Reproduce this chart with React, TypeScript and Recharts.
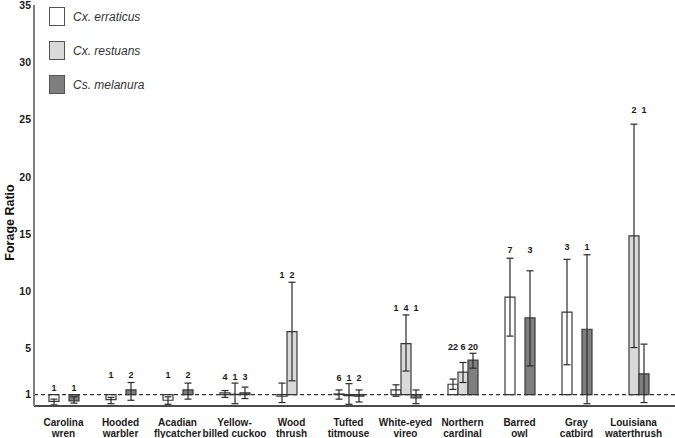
import React from "react"
import {
  Bar,
  BarChart,
  ErrorBar,
  LabelList,
  Legend,
  ReferenceLine,
  XAxis,
  YAxis,
} from "recharts"

const FONT = "'Liberation Sans', Arial, Helvetica, sans-serif"

const birds = [
  "Carolina\nwren",
  "Hooded\nwarbler",
  "Acadian\nflycatcher",
  "Yellow-\nbilled cuckoo",
  "Wood\nthrush",
  "Tufted\ntitmouse",
  "White-eyed\nvireo",
  "Northern\ncardinal",
  "Barred\nowl",
  "Gray\ncatbird",
  "Louisiana\nwaterthrush",
]

// Cx. erraticus
const erraticus = [0.4, 0.55, 0.5, 1.15, 0.85, 1.05, 1.4, 1.9, 9.5, 8.2, null]
const erraticusLow = [0.1, 0.2, 0.15, 0.75, 0.3, 0.6, 0.85, 1.45, 6.1, 3.6, null]
const erraticusHigh = [0.6, 0.75, 0.8, 1.35, 2.0, 1.4, 1.85, 2.35, 12.9, 12.8, null]
const erraticusN = [1, 1, 1, 4, 1, 6, 1, 22, 7, 3, null]

// Cx. restuans
const restuans = [null, null, null, 1.02, 6.5, 0.9, 5.45, 2.95, null, null, 14.85]
const restuansLow = [null, null, null, 0.2, 2.2, 0.15, 3.05, 2.05, null, null, 5.1]
const restuansHigh = [null, null, null, 2.0, 10.8, 1.95, 7.95, 3.8, null, null, 24.6]
const restuansN = [null, null, null, 1, 2, 1, 4, 6, null, null, 2]

// Cs. melanura
const melanura = [0.45, 1.4, 1.4, 1.15, null, 0.85, 0.7, 4.0, 7.7, 6.7, 2.8]
const melanuraLow = [0.25, 0.5, 0.6, 0.65, null, 0.35, 0.2, 3.3, 3.5, 0.2, 0.3]
const melanuraHigh = [0.8, 2.05, 2.0, 1.65, null, 1.4, 1.4, 4.6, 11.8, 13.2, 5.4]
const melanuraN = [1, 2, 2, 3, null, 2, 1, 20, 3, 1, 1]

// height at which the sample-size numbers sit, per bird
const countLevel = [1.35, 2.45, 2.45, 2.3, 11.2, 2.15, 8.33, 4.93, 13.37, 13.65, 25.57]

const yTicks = [1, 5, 10, 15, 20, 25, 30, 35]

const species = [
  { key: "er", name: "Cx. erraticus", fill: "#ffffff", values: erraticus, low: erraticusLow, high: erraticusHigh, n: erraticusN },
  { key: "re", name: "Cx. restuans", fill: "#d9d9d9", values: restuans, low: restuansLow, high: restuansHigh, n: restuansN },
  { key: "me", name: "Cs. melanura", fill: "#7f7f7f", values: melanura, low: melanuraLow, high: melanuraHigh, n: melanuraN },
]
const speciesNames = species.map((s) => s.name)

// bars start at the forage ratio of 1
const chartData = birds.map((bird, i) => {
  const row: Record<string, any> = { bird }
  species.forEach((s) => {
    const v = s.values[i]
    const lo = s.low[i]
    const hi = s.high[i]
    row[s.key] = v == null ? null : [1, v]
    row[s.key + "Err"] = v == null || lo == null || hi == null ? null : [v - lo, hi - v]
    row[s.key + "N"] = s.n[i]
    row[s.key + "Lab"] = s.n[i] == null ? null : [0, countLevel[i]]
  })
  return row
})

function BirdTick({ x, y, payload }: any) {
  const [first, second] = String(payload.value).split("\n")
  return (
    <text
      x={x}
      y={y}
      textAnchor="middle"
      fontFamily={FONT}
      fontWeight="bold"
      fontSize={10}
      fill="#1a1a1a"
    >
      <tspan x={x} dy={18}>
        {first}
      </tspan>
      <tspan x={x} dy={11}>
        {second}
      </tspan>
    </text>
  )
}

function SpeciesLegend({ payload }: any) {
  const items = (payload || [])
    .filter((p: any) => speciesNames.includes(p.value))
    .sort((a: any, b: any) => speciesNames.indexOf(a.value) - speciesNames.indexOf(b.value))
  return (
    <div style={{ fontFamily: FONT }}>
      {items.map((p: any) => (
        <div
          key={p.value}
          style={{ display: "flex", alignItems: "center", height: 19, marginBottom: 15 }}
        >
          <span
            style={{
              display: "inline-block",
              width: 16,
              height: 19,
              boxSizing: "border-box",
              background: p.color,
              border: "1px solid #555",
            }}
          />
          <span
            style={{ marginLeft: 8, fontStyle: "italic", fontSize: 12, color: "#333" }}
          >
            {p.value}
          </span>
        </div>
      ))}
    </div>
  )
}

function AxisTitle(props: any) {
  const vb = props.viewBox
  const cx = vb.x + 10
  const cy = vb.y + vb.height / 2 + 17
  return (
    <text
      x={cx}
      y={cy}
      transform={`rotate(-90 ${cx} ${cy})`}
      textAnchor="middle"
      dominantBaseline="central"
      fontFamily={FONT}
      fontWeight="bold"
      fontSize={12.5}
      fill="#111"
    >
      Forage Ratio
    </text>
  )
}

export default function App() {
  return (
    <div style={{ position: "absolute", left: 0, top: 0, background: "#fff" }}>
      <BarChart
        width={675}
        height={438}
        data={chartData}
        barSize={10}
        barGap={0}
        margin={{ top: 5, right: 0, bottom: 0, left: 0 }}
      >
        <XAxis
          dataKey="bird"
          interval={0}
          height={32}
          padding={{ left: 1, right: 13 }}
          tickLine={false}
          tickSize={0}
          axisLine={{ stroke: "#4a4a4a", strokeWidth: 2 }}
          tick={<BirdTick />}
        />
        <XAxis xAxisId="lab" dataKey="bird" hide padding={{ left: 1, right: 13 }} />
        <YAxis
          domain={[0, 35]}
          ticks={yTicks}
          interval={0}
          allowDataOverflow
          width={34}
          tickLine={false}
          tickSize={0}
          tickMargin={3}
          axisLine={{ stroke: "#808080", strokeWidth: 2 }}
          tick={{ fill: "#1a1a1a", fontSize: 10.5, fontWeight: "bold", fontFamily: FONT }}
          label={{ content: <AxisTitle /> }}
        />
        <Legend
          layout="vertical"
          align="center"
          verticalAlign="middle"
          wrapperStyle={{ left: 49, top: 7, width: 160 }}
          content={<SpeciesLegend />}
        />
        <ReferenceLine y={1} stroke="#333" strokeWidth={1.2} strokeDasharray="4 3" />
        {species.map((s) => (
          <Bar
            key={s.key}
            dataKey={s.key}
            name={s.name}
            fill={s.fill}
            stroke="#3a3a3a"
            strokeWidth={1.2}
            isAnimationActive={false}
          >
            <ErrorBar
              dataKey={s.key + "Err"}
              direction="y"
              width={3.5}
              stroke="#2a2a2a"
              strokeWidth={1.2}
            />
          </Bar>
        ))}
        {species.map((s) => (
          <Bar
            key={s.key + "Lab"}
            xAxisId="lab"
            dataKey={s.key + "Lab"}
            fill="none"
            legendType="none"
            isAnimationActive={false}
          >
            <LabelList
              dataKey={s.key + "N"}
              position="top"
              offset={0}
              style={{ fill: "#1a1a1a", fontSize: 9, fontWeight: "bold", fontFamily: FONT }}
            />
          </Bar>
        ))}
      </BarChart>
    </div>
  )
}
